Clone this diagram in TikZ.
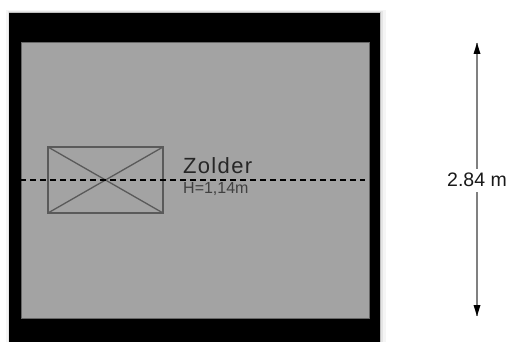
\documentclass[tikz,border=0pt]{standalone}
\usepackage{fontspec}
\setmainfont{Liberation Sans}
\definecolor{roomgray}{HTML}{A3A3A3}
\definecolor{linegray}{HTML}{5A5A5A}
\tikzset{
  wallfill/.style={fill=black,draw=none},
  roomfill/.style={fill=roomgray,draw=black!60,line width=0.8pt},
  hatch/.style={draw=linegray,line width=1.3pt},
  dim/.style={draw=black!50,line width=1.4pt},
  tip/.style={fill=black,draw=none}
}
\begin{document}
\begin{tikzpicture}[x=1pt,y=-1pt]
\useasboundingbox (0,0) rectangle (510,342);
\fill[white] (0,0) rectangle (510,342);
% soft shadow around the wall
\fill[black!4] (6,10) rectangle (386,342);
\fill[black!10] (7.5,11.5) rectangle (383,342);
\fill[black!25] (8.5,12.5) rectangle (381,342);
\fill[wallfill] (9,13) rectangle (380,342);
\draw[roomfill] (21,42) rectangle (369,318);
% hatch
\coordinate (a) at (48,147);
\coordinate (b) at (163,147);
\coordinate (c) at (163,213);
\coordinate (d) at (48,213);
\draw[hatch] (a) -- (b) -- (c) -- (d) -- cycle;
\draw[hatch] (a) -- (c);
\draw[hatch] (b) -- (d);
% labels
\node[anchor=west,inner sep=0pt,font=\fontsize{22}{22}\selectfont\addfontfeature{LetterSpace=6},text=black!85] (zolder) at (183,166) {Zolder};
\node[anchor=west,inner sep=0pt,font=\fontsize{16}{16}\selectfont,text=black!75] (height) at (183,189.5) {H=1,14m};
% section line
\coordinate (s1) at (20,180);
\coordinate (s2) at (365,180);
\draw[black,line width=1.5pt,dash pattern=on 6pt off 4pt] (s1) -- (s2);
% dimension
\node[inner sep=0pt,font=\fontsize{19.5}{19.5}\selectfont,text=black!90] (dimtxt) at (477,180) {2.84 m};
\coordinate (t) at (477,43);
\coordinate (u) at (477,316);
\draw[dim] (t) -- (477,169);
\draw[dim] (477,192) -- (u);
\fill[tip] (t) -- ++(3.5,11) -- ++(-7,0) -- cycle;
\fill[tip] (u) -- ++(3.5,-11) -- ++(-7,0) -- cycle;
\end{tikzpicture}
\end{document}
